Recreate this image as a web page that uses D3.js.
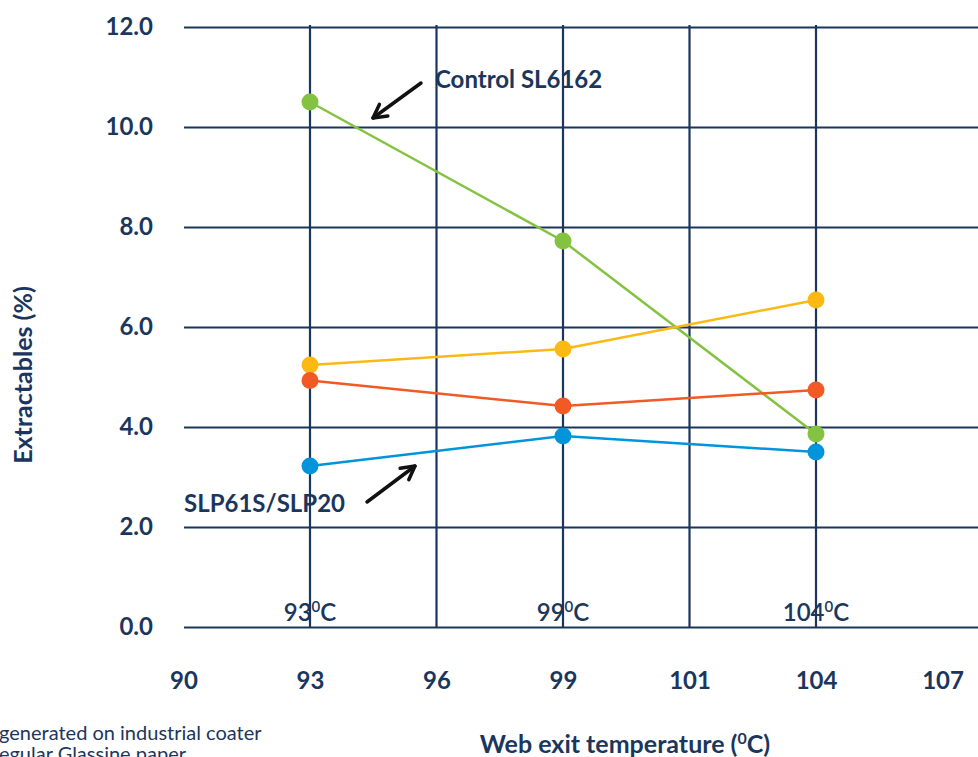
<!DOCTYPE html>
<html>
<head>
<meta charset="utf-8">
<script src="https://cdn.jsdelivr.net/npm/d3@7"></script>
<style>
  body { margin: 0; background: #fff; }
  svg { display: block; font-family: Lato, "Open Sans", sans-serif; }
</style>
</head>
<body>
<div id="chart"></div>
<script>
// chart data
var xTicks = ["90", "93", "96", "99", "101", "104", "107"];
var gridTemps = ["93", "96", "99", "101", "104"];
var temps = ["93", "99", "104"];
var yTicks = [0, 2, 4, 6, 8, 10, 12];

var controlSL6162 = [10.5, 7.72, 3.86];
var seriesYellow = [5.24, 5.56, 6.54];
var seriesOrange = [4.93, 4.42, 4.74];
var slp61sSlp20 = [3.22, 3.82, 3.5];

var seriesList = [
  { name: "Control SL6162", values: controlSL6162, color: "#84c341" },
  { name: "Yellow", values: seriesYellow, color: "#fdb913" },
  { name: "Orange", values: seriesOrange, color: "#f15a24" },
  { name: "SLP61S/SLP20", values: slp61sSlp20, color: "#0095da" }
];

var navy = "#1b365d";

var svgWidth = 978;
var svgHeight = 757;

var svg = d3.select("#chart")
  .append("svg")
  .attr("width", svgWidth)
  .attr("height", svgHeight);

// scales
var x = d3.scalePoint()
  .domain(xTicks)
  .range([183.5, 942.5]);

var y = d3.scaleLinear()
  .domain([0, 12])
  .range([627, 27]);

// horizontal grid + y tick labels
var leftAxis = d3.axisLeft(y)
  .tickValues(yTicks)
  .tickFormat(d3.format(".1f"))
  .tickSize(-(svgWidth - 184))
  .tickPadding(31);

var yAxisG = svg.append("g")
  .attr("transform", "translate(184,0)")
  .call(leftAxis);
yAxisG.select(".domain").remove();
yAxisG.selectAll(".tick line")
  .attr("stroke", navy)
  .attr("stroke-width", 2.2);
yAxisG.selectAll(".tick text")
  .attr("fill", navy)
  .attr("font-size", 24)
  .attr("font-weight", 700)
  .attr("font-family", "Lato, sans-serif");

// vertical grid
svg.append("g")
  .selectAll("line")
  .data(gridTemps)
  .enter()
  .append("line")
  .attr("x1", d => x(d))
  .attr("x2", d => x(d))
  .attr("y1", y(12) - 2)
  .attr("y2", y(0))
  .attr("stroke", navy)
  .attr("stroke-width", 2.2);

// x tick labels
var bottomAxis = d3.axisBottom(x)
  .tickSize(0)
  .tickPadding(45);

var xAxisG = svg.append("g")
  .attr("transform", `translate(0, ${y(0)})`)
  .call(bottomAxis);
xAxisG.select(".domain").remove();
xAxisG.selectAll(".tick text")
  .attr("fill", navy)
  .attr("font-size", 24)
  .attr("font-weight", 700)
  .attr("font-family", "Lato, sans-serif");

// temperature labels just above zero line
var tempLabels = svg.append("g")
  .selectAll("text")
  .data(temps)
  .enter()
  .append("text")
  .attr("x", d => x(d))
  .attr("y", y(0) - 6)
  .attr("text-anchor", "middle")
  .attr("fill", navy)
  .attr("font-size", 24)
  .attr("font-weight", 600);
tempLabels.append("tspan").text(d => d);
tempLabels.append("tspan")
  .attr("font-size", 15)
  .attr("dy", -9)
  .text("0");
tempLabels.append("tspan")
  .attr("dy", 9)
  .text("C");

// series lines and points
var line = d3.line()
  .x((d, i) => x(temps[i]))
  .y(d => y(d));

seriesList.forEach(function (s) {
  var g = svg.append("g");
  g.append("path")
    .datum(s.values)
    .attr("fill", "none")
    .attr("stroke", s.color)
    .attr("stroke-width", 2.5)
    .attr("d", line);
  g.selectAll("circle")
    .data(s.values)
    .enter()
    .append("circle")
    .attr("cx", (d, i) => x(temps[i]))
    .attr("cy", d => y(d))
    .attr("r", 8.5)
    .attr("fill", s.color);
});

// annotations
function arrow(x1, y1, x2, y2) {
  var ang = Math.atan2(y2 - y1, x2 - x1);
  var len = 15;
  var spread = 0.5;
  svg.append("line")
    .attr("x1", x1).attr("y1", y1)
    .attr("x2", x2).attr("y2", y2)
    .attr("stroke", "#111")
    .attr("stroke-width", 3.5)
    .attr("stroke-linecap", "round");
  svg.append("path")
    .attr("d", d3.line()([
      [x2 - len * Math.cos(ang - spread), y2 - len * Math.sin(ang - spread)],
      [x2, y2],
      [x2 - len * Math.cos(ang + spread), y2 - len * Math.sin(ang + spread)]
    ]))
    .attr("fill", "none")
    .attr("stroke", "#111")
    .attr("stroke-width", 3.5)
    .attr("stroke-linecap", "round")
    .attr("stroke-linejoin", "round");
}

arrow(421, 83, 373, 118);
arrow(367, 502, 415, 466);

svg.append("text")
  .attr("x", 435)
  .attr("y", 88)
  .attr("fill", navy)
  .attr("font-size", 24)
  .attr("font-weight", 700)
  .text(seriesList[0].name);

svg.append("text")
  .attr("x", 184)
  .attr("y", 512)
  .attr("fill", navy)
  .attr("font-size", 24)
  .attr("font-weight", 700)
  .text(seriesList[3].name);

// axis titles
svg.append("text")
  .attr("transform", "translate(32,375) rotate(-90)")
  .attr("text-anchor", "middle")
  .attr("fill", navy)
  .attr("font-size", 25)
  .attr("font-weight", 700)
  .text("Extractables (%)");

var xTitle = svg.append("text")
  .attr("x", 625)
  .attr("y", 753)
  .attr("text-anchor", "middle")
  .attr("fill", navy)
  .attr("font-size", 25)
  .attr("font-weight", 700);
xTitle.append("tspan").text("Web exit temperature (");
xTitle.append("tspan").attr("font-size", 16).attr("dy", -9).text("0");
xTitle.append("tspan").attr("dy", 9).text("C)");

// footnote (cut off at the page edge)
svg.append("text")
  .attr("x", -1)
  .attr("y", 740)
  .attr("fill", navy)
  .attr("font-size", 20)
  .text("generated on industrial coater");
svg.append("text")
  .attr("x", -13)
  .attr("y", 761)
  .attr("fill", navy)
  .attr("font-size", 20)
  .text("Regular Glassine paper");
</script>
</body>
</html>
